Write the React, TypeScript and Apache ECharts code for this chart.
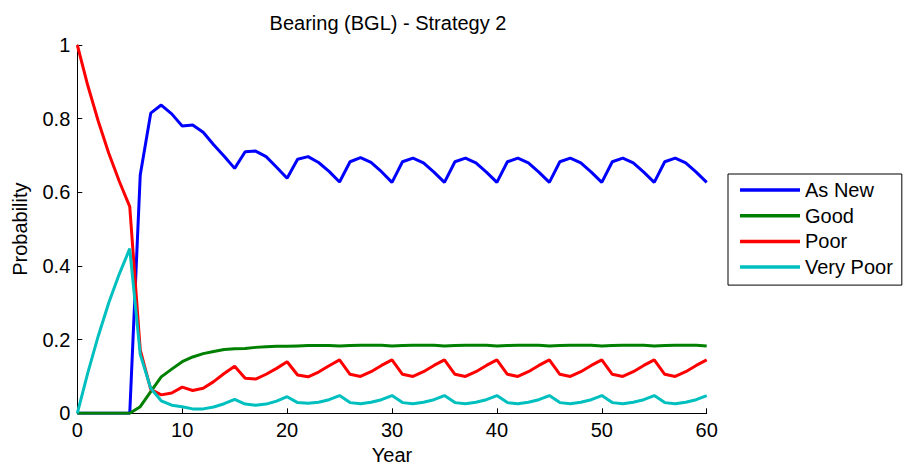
import React, { useEffect, useRef } from "react";
import * as echarts from "echarts";

const years: number[] = Array.from({ length: 61 }, (_, i) => i);

const asNew: number[] = [
  0, 0, 0, 0, 0, 0, 0.647, 0.815, 0.837, 0.813,
  0.780, 0.783, 0.763, 0.729, 0.698, 0.665, 0.710, 0.712, 0.697, 0.668,
  0.638, 0.690, 0.697, 0.681, 0.657, 0.628, 0.683, 0.694, 0.681, 0.656,
  0.627, 0.683, 0.693, 0.680, 0.655, 0.627, 0.683, 0.693, 0.680, 0.655,
  0.627, 0.683, 0.693, 0.680, 0.655, 0.627, 0.683, 0.693, 0.680, 0.655,
  0.627, 0.683, 0.693, 0.680, 0.655, 0.627, 0.683, 0.693, 0.680, 0.655,
  0.627,
];

const good: number[] = [
  0, 0, 0, 0, 0, 0, 0.018, 0.059, 0.099, 0.120,
  0.140, 0.153, 0.162, 0.168, 0.173, 0.175, 0.176, 0.179, 0.181, 0.182,
  0.182, 0.183, 0.184, 0.184, 0.184, 0.183, 0.184, 0.185, 0.185, 0.185,
  0.183, 0.184, 0.185, 0.185, 0.185, 0.183, 0.184, 0.185, 0.185, 0.185,
  0.183, 0.184, 0.185, 0.185, 0.185, 0.183, 0.184, 0.185, 0.185, 0.185,
  0.183, 0.184, 0.185, 0.185, 0.185, 0.183, 0.184, 0.185, 0.185, 0.185,
  0.183,
];

const poor: number[] = [
  1.0, 0.89, 0.793, 0.706, 0.630, 0.561, 0.172, 0.065, 0.050, 0.055,
  0.071, 0.062, 0.068, 0.086, 0.108, 0.128, 0.095, 0.093, 0.106, 0.122,
  0.140, 0.104, 0.099, 0.112, 0.129, 0.145, 0.106, 0.100, 0.113, 0.130,
  0.145, 0.106, 0.100, 0.113, 0.130, 0.145, 0.106, 0.100, 0.113, 0.130,
  0.145, 0.106, 0.100, 0.113, 0.130, 0.145, 0.106, 0.100, 0.113, 0.130,
  0.145, 0.106, 0.100, 0.113, 0.130, 0.145, 0.106, 0.100, 0.113, 0.130,
  0.145,
];

const veryPoor: number[] = [
  0, 0.11, 0.21, 0.30, 0.378, 0.447, 0.160, 0.068, 0.034, 0.022,
  0.018, 0.012, 0.012, 0.017, 0.026, 0.038, 0.025, 0.022, 0.025, 0.033,
  0.045, 0.029, 0.027, 0.030, 0.037, 0.048, 0.029, 0.026, 0.030, 0.037,
  0.048, 0.029, 0.026, 0.030, 0.037, 0.048, 0.029, 0.026, 0.030, 0.037,
  0.048, 0.029, 0.026, 0.030, 0.037, 0.048, 0.029, 0.026, 0.030, 0.037,
  0.048, 0.029, 0.026, 0.030, 0.037, 0.048, 0.029, 0.026, 0.030, 0.037,
  0.048,
];

const seriesNames = ["As New", "Good", "Poor", "Very Poor"];
const seriesColors = ["#0000ff", "#008000", "#ff0000", "#00bfbf"];
const seriesData = [asNew, good, poor, veryPoor];

const FONT = "'Liberation Sans', Arial, Helvetica, sans-serif";

export default function App() {
  const ref = useRef<HTMLDivElement>(null);
  useEffect(() => {
    if (!ref.current) return;
    const chart = echarts.init(ref.current, undefined, { renderer: "svg" });
    chart.setOption({
      animation: false,
      backgroundColor: "#ffffff",
      textStyle: { fontFamily: FONT },
      title: {
        text: "Bearing (BGL) - Strategy 2",
        left: 383,
        top: 8,
        textAlign: "center",
        textStyle: { fontFamily: FONT, fontSize: 20, fontWeight: "normal", color: "#000" },
      },
      grid: {
        left: 77.3,
        right: 196.3,
        top: 45,
        bottom: 52.7,
        containLabel: false,
        outerBoundsMode: "none",
      },
      legend: {
        orient: "vertical",
        left: 728,
        top: 174,
        data: seriesNames,
        icon: "rect",
        itemWidth: 60,
        itemHeight: 3.5,
        itemGap: 5.7,
        itemTextGap: 7,
        padding: [6, 9, 8, 12],
        borderColor: "#000",
        borderWidth: 1,
        backgroundColor: "#fff",
        textStyle: { fontFamily: FONT, fontSize: 20, color: "#000", lineHeight: 20 },
      },
      xAxis: {
        type: "value",
        min: 0,
        max: 60,
        interval: 10,
        name: "Year",
        nameLocation: "middle",
        nameGap: 32,
        nameTextStyle: { fontFamily: FONT, fontSize: 20, color: "#000" },
        axisLine: { show: true, lineStyle: { color: "#000", width: 1 } },
        axisTick: { show: true, inside: true, length: 5, lineStyle: { color: "#000" } },
        axisLabel: { fontFamily: FONT, fontSize: 20, color: "#000", margin: 7 },
        splitLine: { show: false },
      },
      yAxis: {
        type: "value",
        min: 0,
        max: 1,
        interval: 0.2,
        name: "Probability",
        nameLocation: "middle",
        nameGap: 47,
        nameTextStyle: { fontFamily: FONT, fontSize: 20, color: "#000" },
        axisLine: { show: true, lineStyle: { color: "#000", width: 1 } },
        axisTick: { show: true, inside: true, length: 5, lineStyle: { color: "#000" } },
        axisLabel: { fontFamily: FONT, fontSize: 20, color: "#000", margin: 7 },
        splitLine: { show: false },
      },
      series: seriesNames.map((name, i) => ({
        name,
        type: "line",
        data: years.map((y, j) => [y, seriesData[i][j]]),
        showSymbol: false,
        symbol: "none",
        lineStyle: { color: seriesColors[i], width: 3 },
        itemStyle: { color: seriesColors[i] },
        z: 2 + i,
      })),
    });
    return () => chart.dispose();
  }, []);
  return (
    <div
      ref={ref}
      style={{ position: "fixed", left: 0, top: 0, width: 903, height: 466, background: "#fff" }}
    />
  );
}
